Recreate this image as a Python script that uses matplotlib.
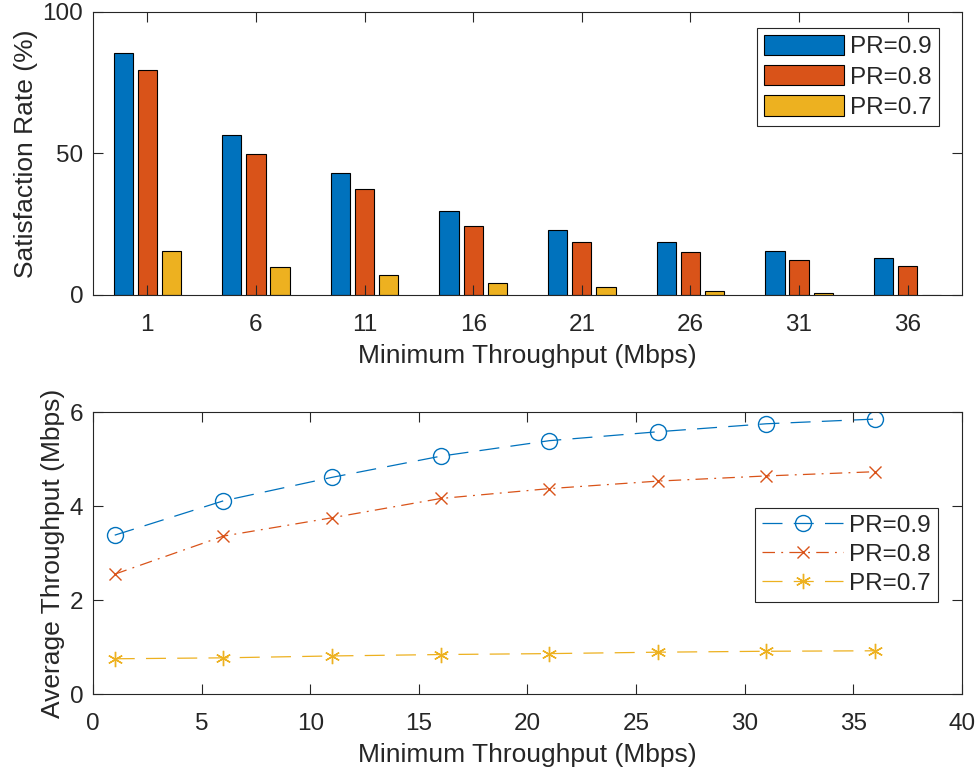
import matplotlib.pyplot as plt
import numpy as np

# Data
thresholds = [1, 6, 11, 16, 21, 26, 31, 36]
labels = ['PR=0.9', 'PR=0.8', 'PR=0.7']

sat_09 = [85.4, 56.4, 43.1, 29.7, 23.0, 18.6, 15.7, 13.1]
sat_08 = [79.5, 49.7, 37.6, 24.4, 18.6, 15.1, 12.3, 10.2]
sat_07 = [15.7, 9.8, 7.0, 4.2, 2.7, 1.4, 0.6, 0.1]

thr_09 = [3.38, 4.11, 4.61, 5.06, 5.39, 5.58, 5.75, 5.85]
thr_08 = [2.55, 3.36, 3.75, 4.16, 4.37, 4.53, 4.64, 4.73]
thr_07 = [0.75, 0.77, 0.81, 0.84, 0.86, 0.89, 0.91, 0.92]

colors = ['#0072BD', '#D95319', '#EDB120']
txt = '#262626'

plt.rcParams['font.family'] = ['Liberation Sans', 'DejaVu Sans']
plt.rcParams['text.color'] = txt
plt.rcParams['axes.labelcolor'] = txt
plt.rcParams['xtick.color'] = txt
plt.rcParams['ytick.color'] = txt

tick_fs = 17.5
label_fs = 19
leg_fs = 17.5

fig = plt.figure(figsize=(9.79, 7.72), dpi=100)
ax1 = fig.add_axes([0.095, 0.6179, 0.8876, 0.3666])
ax2 = fig.add_axes([0.095, 0.101, 0.8876, 0.3653])

for ax in (ax1, ax2):
    for s in ax.spines.values():
        s.set_color(txt)
        s.set_linewidth(0.8)
    ax.tick_params(direction='in', length=7, width=0.8, top=True, right=True,
                   labelsize=tick_fs)
    ax.tick_params(axis='x', pad=13.5)
    ax.tick_params(axis='y', pad=7)
    ax.set_axisbelow(False)

# Top: grouped bars
x = np.array(thresholds, dtype=float)
slot = 5 * (3 / 4.5) / 3
w = slot * 0.8
for i, (vals, c, lab) in enumerate(zip([sat_09, sat_08, sat_07], colors, labels)):
    ax1.bar(x + (i - 1) * slot, vals, width=w, color=c, edgecolor='black',
            linewidth=0.8, label=lab)
ax1.set_xlim(-1.5, 38.5)
ax1.set_ylim(0, 100)
ax1.set_xticks(thresholds)
ax1.set_yticks([0, 50, 100])
ax1.set_xlabel('Minimum Throughput (Mbps)', fontsize=label_fs, labelpad=6)
ax1.set_ylabel('Satisfaction Rate (%)', fontsize=label_fs, labelpad=3)
leg1 = ax1.legend(loc='upper right', bbox_to_anchor=(0.974, 0.945), fontsize=leg_fs,
                  handlelength=3.3, handleheight=0.9, handletextpad=0.25,
                  labelspacing=0.28, borderpad=0.3, fancybox=False,
                  framealpha=1, edgecolor=txt, borderaxespad=0)
leg1.get_frame().set_linewidth(0.8)

# Bottom: lines
lw = 0.9
l1, = ax2.plot(thresholds, thr_09, color=colors[0], lw=lw, marker='o',
               markersize=11.5, markerfacecolor='none', markeredgewidth=1.0,
               label=labels[0])
l1.set_dashes((16, 9))
l2, = ax2.plot(thresholds, thr_08, color=colors[1], lw=lw, marker='x',
               markersize=9, markeredgewidth=1.0, label=labels[1])
l2.set_dashes((10, 5, 1.5, 5))
l3, = ax2.plot(thresholds, thr_07, color=colors[2], lw=lw, marker=(6, 2, 0),
               markersize=11, markeredgewidth=1.0, label=labels[2])
l3.set_dashes((16, 9))
ax2.set_xlim(0, 40)
ax2.set_ylim(0, 6)
ax2.set_xticks(range(0, 41, 5))
ax2.set_yticks([0, 2, 4, 6])
ax2.set_xlabel('Minimum Throughput (Mbps)', fontsize=label_fs, labelpad=6)
ax2.set_ylabel('Average Throughput (Mbps)', fontsize=label_fs, labelpad=3)
leg2 = ax2.legend(loc='center right', bbox_to_anchor=(0.972, 0.494), fontsize=leg_fs,
                  handlelength=3.3, handletextpad=0.25, labelspacing=0.28,
                  borderpad=0.3, fancybox=False, framealpha=1, edgecolor=txt,
                  borderaxespad=0, numpoints=1)
leg2.get_frame().set_linewidth(0.8)

fig.savefig('out.png', dpi=100)
